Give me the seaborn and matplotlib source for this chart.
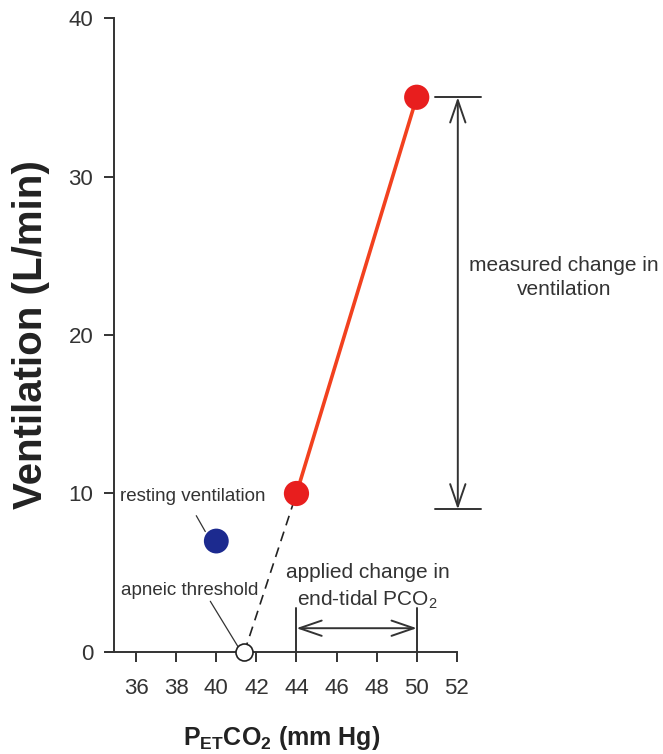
import matplotlib
matplotlib.use('Agg')
import matplotlib.pyplot as plt
import seaborn as sns
import pandas as pd

# data
pet_co2 = [44, 50]
ventilation = [10, 35]
rest_co2 = [40]
rest_vent = [7]
apnea_co2 = [41.4]
apnea_vent = [0]
x_ticks = [36, 38, 40, 42, 44, 46, 48, 50, 52]
y_ticks = [0, 10, 20, 30, 40]

sns.set_style('ticks')
plt.rcParams['font.family'] = ['Liberation Sans', 'DejaVu Sans']
plt.rcParams['mathtext.fontset'] = 'custom'
plt.rcParams['mathtext.rm'] = 'Liberation Sans'
plt.rcParams['mathtext.bf'] = 'Liberation Sans:bold'

fig = plt.figure(figsize=(6.63, 7.54), dpi=100)
ax = fig.add_axes([0.16, 0.1353, 0.529, 0.8408])

df = pd.DataFrame({'co2': pet_co2, 'vent': ventilation})
# dashed extrapolation to apneic threshold
ax.plot([apnea_co2[0], pet_co2[0]], [apnea_vent[0], ventilation[0]],
        color='#222222', lw=1.2, dashes=(6, 4), zorder=2)
sns.lineplot(data=df, x='co2', y='vent', color='#f2411f', lw=2.6, ax=ax, zorder=3)
sns.scatterplot(data=df, x='co2', y='vent', color='#e81e1e', s=330,
                edgecolor='none', ax=ax, zorder=4)
sns.scatterplot(x=rest_co2, y=rest_vent, color='#1c2a8f', s=320,
                edgecolor='none', ax=ax, zorder=4)
sns.scatterplot(x=apnea_co2, y=apnea_vent, color='white', s=150,
                edgecolor='#222222', linewidth=1.2, ax=ax, zorder=5,
                clip_on=False)

ax.set_xlim(34.5, 52)
ax.set_ylim(0, 40)
ax.set_xticks(x_ticks)
ax.set_yticks(y_ticks)
ax.spines['left'].set_position(('data', 34.9))
ax.spines['right'].set_visible(False)
ax.spines['top'].set_visible(False)
for s in ['left', 'bottom']:
    ax.spines[s].set_color('#333333')
    ax.spines[s].set_linewidth(1.4)
ax.tick_params(axis='both', labelsize=16, colors='#333333', width=1.4, length=7)
ax.tick_params(axis='x', pad=12)
ax.tick_params(axis='y', pad=8)

ax.set_xlabel(r'$\mathbf{P_{ET}CO_2}$ (mm Hg)', fontsize=18, fontweight='bold',
              color='#222222', labelpad=18)
ax.set_ylabel('Ventilation (L/min)', fontsize=29, fontweight='bold',
              color='#222222', labelpad=13)

tc = '#333333'
arrow = '<->,head_length=1.6,head_width=0.55'
# resting ventilation label
ax.text(38.8, 9.8, 'resting ventilation', ha='center', va='center', fontsize=13.5, color=tc)
ax.plot([39.0, 39.45], [8.6, 7.6], color=tc, lw=0.9)
# apneic threshold label
ax.text(38.65, 3.9, 'apneic threshold', ha='center', va='center', fontsize=13.5, color=tc)
ax.plot([39.7, 41.1], [3.2, 0.3], color=tc, lw=0.9)

# applied change in PCO2
ax.text(47.55, 5.0, 'applied change in', ha='center', va='center', fontsize=15, color=tc)
ax.text(47.55, 3.3, r'end-tidal PCO$_2$', ha='center', va='center', fontsize=15, color=tc)
for xv in [44, 50]:
    ax.plot([xv, xv], [0, 2.8], color=tc, lw=1.4)
ax.annotate('', xy=(44, 1.5), xytext=(50, 1.5),
            arrowprops=dict(arrowstyle=arrow, color=tc, lw=1.4,
                            shrinkA=0, shrinkB=0))

# measured change in ventilation
for yv in [35, 9]:
    ax.plot([50.9, 53.2], [yv, yv], color=tc, lw=1.4, clip_on=False)
ax.annotate('', xy=(52.05, 35), xytext=(52.05, 9),
            arrowprops=dict(arrowstyle=arrow, color=tc, lw=1.4,
                            shrinkA=0, shrinkB=0),
            annotation_clip=False)
ax.text(57.35, 24.4, 'measured change in', ha='center', va='center',
        fontsize=15, color=tc, clip_on=False)
ax.text(57.35, 22.9, 'ventilation', ha='center', va='center',
        fontsize=15, color=tc, clip_on=False)

fig.savefig('out.png', dpi=100, facecolor='white')
